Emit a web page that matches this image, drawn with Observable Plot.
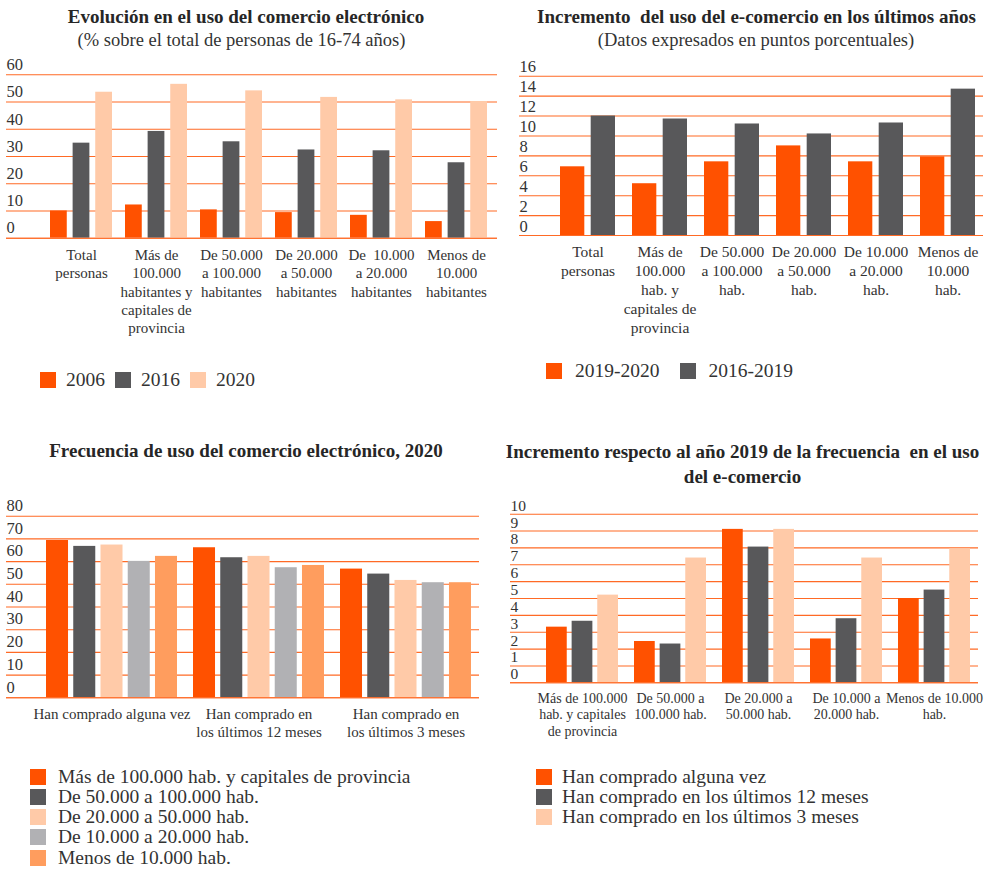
<!DOCTYPE html>
<html><head><meta charset="utf-8">
<script src="https://cdn.jsdelivr.net/npm/d3@7"></script>
<script src="https://cdn.jsdelivr.net/npm/@observablehq/plot@0.6"></script>
<style>
body{margin:0;background:#fff;font-family:"Liberation Serif",serif;color:#2b2b2b;}
#root{position:relative;width:987px;height:869px;overflow:hidden;background:#fff;}
.abs{position:absolute;}
.title{font-weight:bold;font-size:19px;line-height:22px;text-align:center;white-space:nowrap;color:#262626;}
.sub{font-size:18.5px;line-height:22px;text-align:center;white-space:nowrap;color:#333;}
.leg{font-size:19.5px;color:#333;white-space:nowrap;}
.row{display:flex;align-items:center;}
.sw{display:inline-block;width:16px;height:16px;flex:none;}
svg{overflow:visible;}
</style></head><body><div id="root"></div>
<script>
// ---------- DATA ----------
const p1Categories = ["Total\npersonas", "Más de\n100.000\nhabitantes y\ncapitales de\nprovincia", "De 50.000\na 100.000\nhabitantes", "De 20.000\na 50.000\nhabitantes", "De  10.000\na 20.000\nhabitantes", "Menos de\n10.000\nhabitantes"];
const p1Series = ["2006", "2016", "2020"];
const p1_2006 = [10.0, 12.2, 10.4, 9.4, 8.4, 6.1];
const p1_2016 = [34.9, 39.2, 35.4, 32.4, 32.1, 27.7];
const p1_2020 = [53.6, 56.5, 54.1, 51.7, 50.8, 50.2];
const p1Ticks = [0, 10, 20, 30, 40, 50, 60];

const p2Categories = ["Total\npersonas", "Más de\n100.000\nhab. y\ncapitales de\nprovincia", "De 50.000\na 100.000\nhab.", "De 20.000\na 50.000\nhab.", "De 10.000\na 20.000\nhab.", "Menos de\n10.000\nhab."];
const p2Series = ["2019-2020", "2016-2019"];
const p2_1920 = [6.9, 5.2, 7.4, 9.0, 7.4, 7.9];
const p2_1619 = [12.0, 11.7, 11.2, 10.2, 11.3, 14.7];
const p2Ticks = [0, 2, 4, 6, 8, 10, 12, 14, 16];

const p3Categories = ["Han comprado alguna vez", "Han comprado en\nlos últimos 12 meses", "Han comprado en\nlos últimos 3 meses"];
const p3Series = ["Más de 100.000 hab. y capitales de provincia", "De 50.000 a 100.000 hab.", "De 20.000 a 50.000 hab.", "De 10.000 a 20.000 hab.", "Menos de 10.000 hab."];
const p3_mas100k = [69.3, 66.1, 56.7];
const p3_50k = [66.7, 61.7, 54.5];
const p3_20k = [67.3, 62.3, 51.7];
const p3_10k = [60.1, 57.3, 50.7];
const p3_menos10k = [62.3, 58.3, 50.7];
const p3Ticks = [0, 10, 20, 30, 40, 50, 60, 70, 80];

const p4Categories = ["Más de 100.000\nhab. y capitales\nde provincia", "De 50.000 a\n100.000 hab.", "De 20.000 a\n50.000 hab.", "De 10.000 a\n20.000 hab.", "Menos de 10.000\nhab."];
const p4Series = ["Han comprado alguna vez", "Han comprado en los últimos 12 meses", "Han comprado en los últimos 3 meses"];
const p4_alguna = [3.3, 2.45, 9.1, 2.6, 5.0];
const p4_12m = [3.65, 2.3, 8.05, 3.8, 5.5];
const p4_3m = [5.2, 7.4, 9.1, 7.4, 7.95];
const p4Ticks = [0, 1, 2, 3, 4, 5, 6, 7, 8, 9, 10];

// ---------- STYLE ----------
const ORANGE = "#ff5100", DARK = "#58585a", PEACH = "#ffcaa8", GRAY = "#b1b1b4", MIDOR = "#ff9d5e";
const GRID = "#ff6a25";
const FONT = '"Liberation Serif", serif';
const root = document.getElementById("root");

function el(tag, cls, css, html) {
  const e = document.createElement(tag);
  if (cls) e.className = cls;
  Object.assign(e.style, css || {});
  if (html != null) e.innerHTML = html;
  root.appendChild(e);
  return e;
}

function panel(o) {
  const data = [];
  o.series.forEach((s, i) => o.cats.forEach((c, j) => data.push({cat: c, series: s, si: i, value: o.values[i][j]})));
  const n = o.cats.length, ns = o.series.length;
  const step = (o.x1 - o.x0) / n, bw = step * (1 - o.pad), gap = (bw - ns * o.barW) / (ns - 1);
  const marks = [Plot.ruleY(o.ticks, {stroke: GRID, strokeWidth: 1.1})];
  o.series.forEach((s, i) => marks.push(Plot.barY(data.filter(d => d.si === i), {
    x: "cat", y: "value", fill: o.colors[i],
    insetLeft: i * (o.barW + gap), insetRight: (ns - 1 - i) * (o.barW + gap)
  })));
  marks.push(Plot.ruleY([0], {stroke: GRID, strokeWidth: 1.1}));
  marks.push(Plot.axisY({ticks: o.ticks, tickSize: 0, tickPadding: 0, textAnchor: "start", dy: o.tickDy, label: null, fontSize: o.yFont, fontFamily: FONT, fill: "#333"}));
  marks.push(Plot.axisX({tickSize: 0, tickPadding: o.xPad, label: null, fontSize: o.xFont, fontFamily: FONT, lineHeight: o.lineHeight, fill: "#333"}));
  const svg = Plot.plot({
    width: o.width, height: o.height,
    marginTop: o.mt, marginBottom: o.mb, marginLeft: o.ml, marginRight: o.mr,
    x: {domain: o.cats, range: [o.x0, o.x1], paddingInner: o.pad, paddingOuter: o.pad / 2},
    y: {domain: [o.ticks[0], o.ticks[o.ticks.length - 1]]},
    style: {fontFamily: FONT, background: "transparent", color: "#333"},
    marks
  });
  const wrap = el("div", "abs", {left: o.left + "px", top: o.top + "px"});
  wrap.appendChild(svg);
}

function legendRow(items, colors, left, top, swGap, itemGap) {
  const d = el("div", "abs leg row", {left: left + "px", top: top + "px", height: "20px"});
  items.forEach((t, i) => {
    const s = document.createElement("span"); s.className = "sw"; s.style.background = colors[i];
    if (i > 0) s.style.marginLeft = itemGap + "px";
    const l = document.createElement("span"); l.textContent = t; l.style.marginLeft = swGap + "px";
    d.appendChild(s); d.appendChild(l);
  });
}
function legendCol(items, colors, left, top, swGap, rowH) {
  const d = el("div", "abs leg", {left: left + "px", top: top + "px"});
  items.forEach((t, i) => {
    const r = document.createElement("div"); r.className = "row"; r.style.height = rowH + "px";
    const s = document.createElement("span"); s.className = "sw"; s.style.background = colors[i];
    const l = document.createElement("span"); l.textContent = t; l.style.marginLeft = swGap + "px";
    r.appendChild(s); r.appendChild(l); d.appendChild(r);
  });
}

// ---------- TITLES ----------
el("div", "abs title", {left: "0px", width: "492px", top: "6px"}, "Evolución en el uso del comercio electrónico");
el("div", "abs sub", {left: "0px", width: "483px", top: "29px"}, "(% sobre el total de personas de 16-74 años)");
el("div", "abs title", {left: "526px", width: "461px", top: "6px"}, "Incremento&nbsp; del uso del e-comercio en los últimos años");
el("div", "abs sub", {left: "526px", width: "460px", top: "29px"}, "(Datos expresados en puntos porcentuales)");
el("div", "abs title", {left: "0px", width: "492px", top: "440px"}, "Frecuencia de uso del comercio electrónico, 2020");
el("div", "abs title", {left: "500px", width: "485px", top: "439px", lineHeight: "25px"}, "Incremento respecto al año 2019 de la frecuencia&nbsp; en el uso<br>del e-comercio");

// ---------- PANELS ----------
panel({cats: p1Categories, series: p1Series, values: [p1_2006, p1_2016, p1_2020], colors: [ORANGE, DARK, PEACH], ticks: p1Ticks,
  left: 0, top: 50, width: 500, height: 298, mt: 24.3, mb: 110.3, ml: 6, mr: 3, x0: 40.5, x1: 496, pad: 0.167, barW: 18,
  yFont: 16.5, tickDy: -10, xFont: 15, lineHeight: 1.22, xPad: 9});
panel({cats: p2Categories, series: p2Series, values: [p2_1920, p2_1619], colors: [ORANGE, DARK], ticks: p2Ticks,
  left: 500, top: 50, width: 487, height: 298, mt: 25.7, mb: 113, ml: 19, mr: 4, x0: 51, x1: 484, pad: 0.238, barW: 24.3,
  yFont: 16.5, tickDy: -9, xFont: 15.5, lineHeight: 1.22, xPad: 8});
panel({cats: p3Categories, series: p3Series, values: [p3_mas100k, p3_50k, p3_20k, p3_10k, p3_menos10k], colors: [ORANGE, DARK, PEACH, GRAY, MIDOR], ticks: p3Ticks,
  left: 0, top: 480, width: 500, height: 260, mt: 35.7, mb: 42.7, ml: 6, mr: 21, x0: 37.5, x1: 479.5, pad: 0.111, barW: 22,
  yFont: 16.5, tickDy: -10.5, xFont: 15, lineHeight: 1.18, xPad: 9});
panel({cats: p4Categories, series: p4Series, values: [p4_alguna, p4_12m, p4_3m], colors: [ORANGE, DARK, PEACH], ticks: p4Ticks,
  left: 500, top: 480, width: 487, height: 260, mt: 33.7, mb: 57.7, ml: 10, mr: 9, x0: 36.8, x1: 478.8, pad: 0.186, barW: 20.7,
  yFont: 15.5, tickDy: -8.5, xFont: 14, lineHeight: 1.19, xPad: 8});

// ---------- LEGENDS ----------
legendRow(p1Series, [ORANGE, DARK, PEACH], 40, 369.5, 10, 10);
legendRow(p2Series, [ORANGE, DARK], 546, 361, 13, 20);
legendCol(p3Series, [ORANGE, DARK, PEACH, GRAY, MIDOR], 30, 766.5, 12, 20.25);
legendCol(p4Series, [ORANGE, DARK, PEACH], 536, 766.7, 10, 20);
</script>
</body></html>
